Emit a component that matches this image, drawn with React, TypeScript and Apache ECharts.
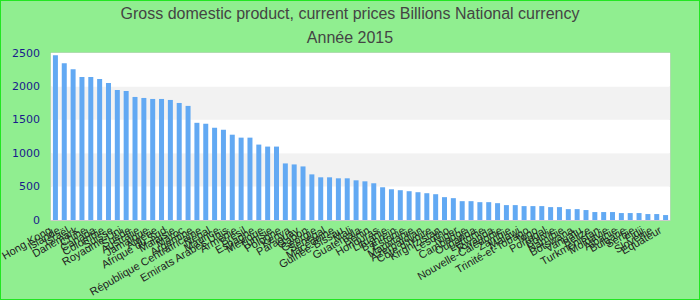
import React, { useEffect, useRef } from "react";
import * as echarts from "echarts";

const titleText = "Gross domestic product, current prices Billions National currency";
const subtitleText = "Année 2015";

const countries = [
  "Hong Kong", "Islande", "Israël", "Danemark", "Chine", "Canada", "Colombie", "Suisse",
  "Royaume-Uni", "Suède", "Australie", "Jamaïque", "Algérie", "Afrique du Sud", "Malaisie",
  "Maroc", "Argentine", "République Centrafricaine", "Népal", "Maurice",
  "Emirats Arabes Unis", "Arménie", "Brésil", "Espagne", "Mexique", "Tunisie", "Pologne",
  "Kenya", "Paraguay", "Gabon", "Géorgie", "Sénégal", "Macédoine", "Guinée-Bissau", "Mali",
  "Guatemala", "Bénin", "Honduras", "Lituanie", "Bahreïn", "Estonie", "Mauritanie",
  "Azerbaïdjan", "Côte d'Ivoire", "Kirghizistan", "Lesotho", "Niger", "Cambodge", "Ouganda",
  "Lettonie", "Rwanda", "Nouvelle-Calédonie", "Zambie", "Malawi", "Trinité-et-Tobago",
  "Togo", "Portugal", "Bolivie", "Namibie", "Botswana", "Vanuatu", "Belize", "Turkménistan",
  "Moldavie", "Albanie", "Bulgarie", "Serbie", "Fidji", "Slovénie", "Equateur",
];

const gdpValues = [
  2465, 2347, 2257, 2139, 2139, 2109, 2050, 1946, 1931, 1842, 1827, 1812, 1812, 1797,
  1752, 1708, 1455, 1441, 1381, 1351, 1277, 1233, 1233, 1129, 1099, 1099, 847, 832,
  802, 683, 639, 639, 624, 624, 594, 579, 550, 490, 460, 446, 431, 416,
  401, 386, 342, 327, 282, 282, 267, 267, 252, 223, 223, 208, 208,
  208, 193, 193, 163, 163, 149, 119, 119, 119, 104, 104, 104, 89, 89, 74,
];

const yMin = 0;
const yMax = 2500;
const yInterval = 500;

export default function App() {
  const ref = useRef<HTMLDivElement>(null);

  useEffect(() => {
    document.body.style.margin = "0";
    if (!ref.current) return;
    const chart = echarts.init(ref.current, undefined, { renderer: "svg" });
    chart.setOption({
      animation: false,
      backgroundColor: "#90ee90",
      title: {
        text: titleText + "\n" + subtitleText,
        left: "center",
        top: -5,
        textStyle: {
          fontFamily: "Liberation Sans, Arial, sans-serif",
          fontSize: 16,
          fontWeight: "normal",
          color: "#444",
          lineHeight: 24,
        },
      },
      grid: {
        left: 50,
        right: 29,
        top: 52,
        bottom: 79,
        show: true,
        backgroundColor: "#fff",
        borderColor: "#ccc",
        borderWidth: 1,
        containLabel: false,
        outerBoundsMode: "none",
      },
      xAxis: {
        type: "category",
        data: countries,
        axisTick: { show: false },
        axisLine: { lineStyle: { color: "#ccc" } },
        axisLabel: {
          interval: 0,
          rotate: 30,
          fontFamily: "Liberation Sans, Arial, sans-serif",
          fontSize: 11,
          color: "#222",
          margin: 6,
          padding: [0, 6, 0, 0],
        },
      },
      yAxis: {
        type: "value",
        min: yMin,
        max: yMax,
        interval: yInterval,
        axisLine: { show: false },
        axisTick: { show: false },
        splitLine: { show: false },
        splitArea: { show: true, areaStyle: { color: ["#ffffff", "#f2f2f2"] } },
        axisLabel: {
          fontFamily: "DejaVu Sans, sans-serif",
          fontSize: 11,
          color: "#1a1a8c",
          margin: 11,
          formatter: (v: number) => String(v),
        },
      },
      series: [
        {
          type: "bar",
          data: gdpValues,
          barWidth: 5,
          itemStyle: { color: "#62a9f3" },
        },
      ],
    });
    return () => chart.dispose();
  }, []);

  return (
    <div
      ref={ref}
      style={{ width: 700, height: 300, boxSizing: "border-box", border: "1px solid #22e622" }}
    />
  );
}
